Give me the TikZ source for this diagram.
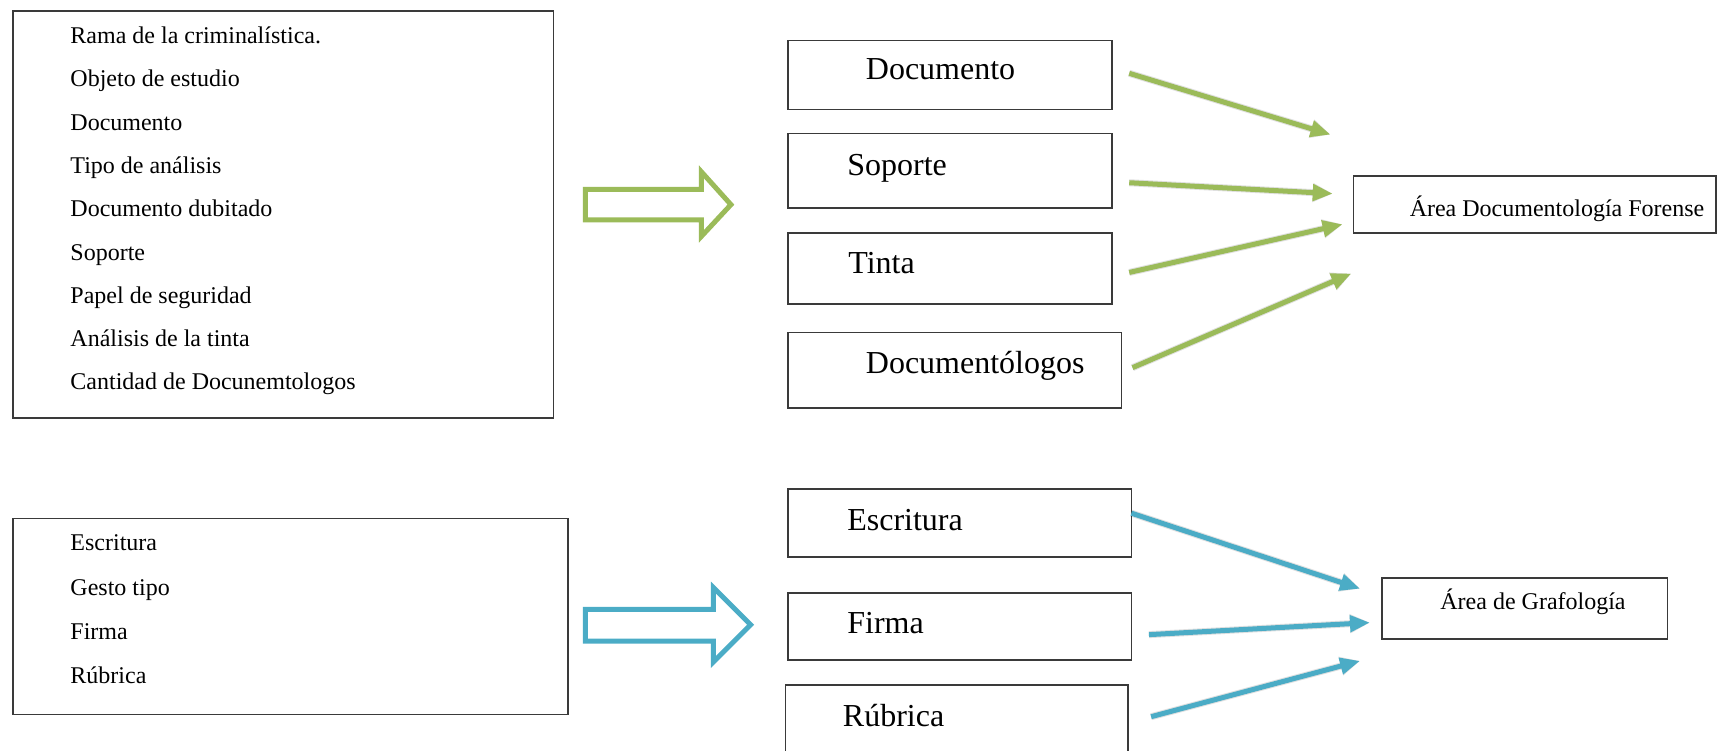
\documentclass[tikz,border=0pt]{standalone}
\usepackage{fontspec}
\setmainfont{Liberation Serif}
\usetikzlibrary{arrows.meta,fit}
\definecolor{olivegreen}{HTML}{9BBB59}
\definecolor{aqua}{HTML}{4BACC6}
\definecolor{boxgray}{HTML}{3A3A3A}
\begin{document}
\begin{tikzpicture}[x=0.5471pt,y=-0.5471pt,
  frame/.style={draw=boxgray,line width=0.8pt,inner sep=0pt},
  small/.style={font=\fontsize{12pt}{14pt}\selectfont,anchor=base west,inner sep=0pt},
  big/.style={font=\fontsize{16pt}{19pt}\selectfont,anchor=base west,inner sep=0pt},
  shade/.style={draw=black,draw opacity=0.12,line width=3.5pt,shift={(1.5,3)},-{Triangle[length=10pt,width=9pt]}},
  gline/.style={draw=olivegreen,line width=2.5pt,-{Triangle[length=10pt,width=8pt]}},
  bline/.style={draw=aqua,line width=2.5pt,-{Triangle[length=10pt,width=8pt]}},
  blockarrow/.style={line width=2.5pt,miter limit=10,line join=miter}]
\useasboundingbox (0,0) rectangle (1571,686);
% top-left list
\coordinate (tl1) at (12,10); \coordinate (tl2) at (506,382);
\node[frame,fit=(tl1)(tl2)] (listA) {};
\node[small] (a1) at (64,40) {Rama de la criminalística.};
\node[small] (a2) at (64,79) {Objeto de estudio};
\node[small] (a3) at (64,119) {Documento};
\node[small] (a4) at (64,159) {Tipo de análisis};
\node[small] (a5) at (64,198) {Documento dubitado};
\node[small] (a6) at (64,238) {Soporte};
\node[small] (a7) at (64,277) {Papel de seguridad};
\node[small] (a8) at (64,317) {Análisis de la tinta};
\node[small] (a9) at (64,356) {Cantidad de Docunemtologos};
% bottom-left list
\coordinate (bl1) at (12,474); \coordinate (bl2) at (519,653);
\node[frame,fit=(bl1)(bl2)] (listB) {};
\node[small] (b1) at (64,503) {Escritura};
\node[small] (b2) at (64,544) {Gesto tipo};
\node[small] (b3) at (64,584) {Firma};
\node[small] (b4) at (64,625) {Rúbrica};
% block arrows
\draw[blockarrow,draw=olivegreen] (535,173) -- (641,173) -- (641,157) -- (668,187) -- (641,216) -- (641,201) -- (535,201) -- cycle;
\draw[blockarrow,draw=aqua] (535,557) -- (652,557) -- (652,537) -- (686,571) -- (652,605) -- (652,586) -- (535,586) -- cycle;
% middle boxes top
\coordinate (d1) at (720,37); \coordinate (d2) at (1016,100);
\node[frame,fit=(d1)(d2)] (doc) {};
\node[big] at (791,73) {Documento};
\coordinate (s1) at (720,122); \coordinate (s2) at (1016,190);
\node[frame,fit=(s1)(s2)] (sop) {};
\node[big] at (774,160) {Soporte};
\coordinate (t1) at (720,213); \coordinate (t2) at (1016,278);
\node[frame,fit=(t1)(t2)] (tin) {};
\node[big] at (775,250) {Tinta};
\coordinate (o1) at (720,304); \coordinate (o2) at (1025,373);
\node[frame,fit=(o1)(o2)] (dlog) {};
\node[big] at (791,341) {Documentólogos};
% target top
\coordinate (f1) at (1237,161); \coordinate (f2) at (1568,213);
\node[frame,fit=(f1)(f2)] (forense) {};
\node[small] at (1288,198) {Área Documentología Forense};
% middle boxes bottom
\coordinate (e1) at (720,447); \coordinate (e2) at (1034,509);
\node[frame,fit=(e1)(e2)] (esc) {};
\node[big] at (774,485) {Escritura};
\coordinate (r1) at (720,542); \coordinate (r2) at (1034,603);
\node[frame,fit=(r1)(r2)] (fir) {};
\node[big] at (774,579) {Firma};
\coordinate (u1) at (718,626); \coordinate (u2) at (1031,720);
\node[frame,fit=(u1)(u2)] (rub) {};
\node[big] at (770,664) {Rúbrica};
% target bottom
\coordinate (g1) at (1263,528); \coordinate (g2) at (1524,584);
\node[frame,fit=(g1)(g2)] (grafo) {};
\node[small] at (1316,557) {Área de Grafología};
% connector endpoints
\coordinate (docS) at (1032,67);  \coordinate (docE) at (1216,123);
\coordinate (sopS) at (1032,167); \coordinate (sopE) at (1218,177);
\coordinate (tinS) at (1032,249); \coordinate (tinE) at (1227,205);
\coordinate (dlogS) at (1035,336); \coordinate (dlogE) at (1235,250);
\coordinate (escS) at (1034,469); \coordinate (escE) at (1243,538);
\coordinate (firS) at (1050,580); \coordinate (firE) at (1252,569);
\coordinate (rubS) at (1052,655); \coordinate (rubE) at (1243,604);
\foreach \s/\e in {docS/docE,sopS/sopE,tinS/tinE,dlogS/dlogE,escS/escE,firS/firE,rubS/rubE}
  \draw[shade] (\s) -- (\e);
\draw[gline] (docS) -- (docE);
\draw[gline] (sopS) -- (sopE);
\draw[gline] (tinS) -- (tinE);
\draw[gline] (dlogS) -- (dlogE);
\draw[bline] (escS) -- (escE);
\draw[bline] (firS) -- (firE);
\draw[bline] (rubS) -- (rubE);
\end{tikzpicture}
\end{document}
